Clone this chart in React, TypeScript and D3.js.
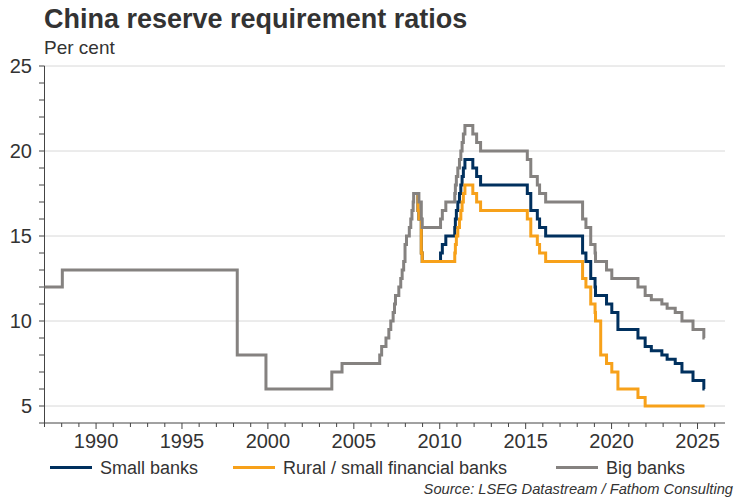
import React from "react";
import * as d3 from "d3";

// Change points: [date, per cent]
const smallBanks: [string, number][] = [
  ["2008-06-25", 17.5], ["2008-09-25", 16.5], ["2008-10-15", 16], ["2008-12-05", 14], ["2008-12-25", 13.5],
  ["2010-01-18", 14], ["2010-02-25", 14.5], ["2010-05-10", 15], ["2010-11-16", 15.5], ["2010-11-29", 16],
  ["2010-12-20", 16.5], ["2011-01-20", 17], ["2011-02-24", 17.5], ["2011-03-25", 18], ["2011-04-21", 18.5],
  ["2011-05-18", 19], ["2011-06-20", 19.5], ["2011-12-05", 19], ["2012-02-24", 18.5], ["2012-05-18", 18],
  ["2015-02-05", 17.5], ["2015-04-20", 16.5], ["2015-09-06", 16], ["2015-10-24", 15.5], ["2016-03-01", 15],
  ["2018-04-25", 14], ["2018-07-05", 13.5], ["2018-10-15", 12.5], ["2019-01-15", 12], ["2019-01-25", 11.5],
  ["2019-09-16", 11], ["2020-01-06", 10.5], ["2020-05-15", 9.5], ["2021-07-15", 9], ["2021-12-15", 8.5],
  ["2022-04-25", 8.25], ["2022-12-05", 8], ["2023-03-27", 7.75], ["2023-09-15", 7.5], ["2024-02-05", 7],
  ["2024-09-27", 6.5], ["2025-05-15", 6], ["2025-06-01", 6],
];

const ruralBanks: [string, number][] = [
  ["2008-06-25", 17.5], ["2008-09-25", 16.5], ["2008-10-15", 16], ["2008-12-05", 14], ["2008-12-25", 13.5],
  ["2010-11-16", 14], ["2010-11-29", 14.5], ["2010-12-20", 15], ["2011-01-20", 15.5], ["2011-02-24", 16],
  ["2011-03-25", 16.5], ["2011-04-21", 17], ["2011-05-18", 17.5], ["2011-06-20", 18], ["2011-12-05", 17.5],
  ["2012-02-24", 17], ["2012-05-18", 16.5], ["2015-02-05", 16], ["2015-04-20", 15], ["2015-09-06", 14.5],
  ["2015-10-24", 14], ["2016-03-01", 13.5], ["2018-04-25", 12.5], ["2018-07-05", 12], ["2018-10-15", 11],
  ["2019-01-15", 10.5], ["2019-01-25", 10], ["2019-05-15", 8], ["2019-09-16", 7.5], ["2020-01-06", 7],
  ["2020-05-15", 6], ["2021-07-15", 5.5], ["2021-12-15", 5], ["2025-06-01", 5],
];

const bigBanks: [string, number][] = [
  ["1987-01-01", 12], ["1988-01-15", 13], ["1998-03-21", 8], ["1999-11-21", 6], ["2003-09-21", 7],
  ["2004-04-25", 7.5], ["2006-07-05", 8], ["2006-08-15", 8.5], ["2006-11-15", 9], ["2007-01-15", 9.5],
  ["2007-02-25", 10], ["2007-04-16", 10.5], ["2007-05-15", 11], ["2007-06-05", 11.5], ["2007-08-15", 12],
  ["2007-09-25", 12.5], ["2007-10-25", 13], ["2007-11-26", 13.5], ["2007-12-25", 14.5], ["2008-01-25", 15],
  ["2008-03-25", 15.5], ["2008-04-25", 16], ["2008-05-20", 16.5], ["2008-06-15", 17], ["2008-06-25", 17.5],
  ["2008-10-15", 17], ["2008-12-05", 16], ["2008-12-25", 15.5], ["2010-01-18", 16], ["2010-02-25", 16.5],
  ["2010-05-10", 17], ["2010-11-16", 17.5], ["2010-11-29", 18], ["2010-12-20", 18.5], ["2011-01-20", 19],
  ["2011-02-24", 19.5], ["2011-03-25", 20], ["2011-04-21", 20.5], ["2011-05-18", 21], ["2011-06-20", 21.5],
  ["2011-12-05", 21], ["2012-02-24", 20.5], ["2012-05-18", 20], ["2015-02-05", 19.5], ["2015-04-20", 18.5],
  ["2015-09-06", 18], ["2015-10-24", 17.5], ["2016-03-01", 17], ["2018-04-25", 16], ["2018-07-05", 15.5],
  ["2018-10-15", 14.5], ["2019-01-15", 14], ["2019-01-25", 13.5], ["2019-09-16", 13], ["2020-01-06", 12.5],
  ["2021-07-15", 12], ["2021-12-15", 11.5], ["2022-04-25", 11.25], ["2022-12-05", 11], ["2023-03-27", 10.75],
  ["2023-09-15", 10.5], ["2024-02-05", 10], ["2024-09-27", 9.5], ["2025-05-15", 9], ["2025-06-01", 9],
];

const seriesNames = ["Small banks", "Rural / small financial banks", "Big banks"];
const seriesColors = ["#00305e", "#f7a11a", "#858280"];
const yTickLabels = [5, 10, 15, 20, 25];
const xTickLabels = [1990, 1995, 2000, 2005, 2010, 2015, 2020, 2025];

const parse = d3.timeParse("%Y-%m-%d");
const FONT = "'Liberation Sans', Arial, sans-serif";

export default function App() {
  const x = d3
    .scaleTime()
    .domain([new Date(1987, 0, 1), new Date(2026, 7, 8)])
    .range([44.5, 725]);
  const y = d3.scaleLinear().domain([4, 25]).range([423, 66]);

  const line = d3
    .line<[string, number]>()
    .x((d) => x(parse(d[0]) as Date))
    .y((d) => y(d[1]))
    .curve(d3.curveStepAfter);

  const allSeries = [smallBanks, ruralBanks, bigBanks];
  const yearTicks = d3.timeYear.range(new Date(1987, 0, 1), new Date(2026, 6, 1));
  const yMinor = d3.range(4, 26, 1);
  const legendX = [50, 233, 556];

  return (
    <svg
      width={750}
      height={500}
      style={{ position: "absolute", left: 0, top: 0, background: "#fff" }}
      fontFamily={FONT}
    >
      <text x={44} y={28} fontSize={27} fontWeight="bold" fill="#333">
        China reserve requirement ratios
      </text>
      <text x={44} y={54} fontSize={19} fill="#333">
        Per cent
      </text>

      {yTickLabels.map((v) => (
        <line
          key={"g" + v}
          x1={44.5}
          x2={725}
          y1={y(v)}
          y2={y(v)}
          stroke="#b0b0b0"
          strokeWidth={1}
          strokeDasharray="1,1"
        />
      ))}

      {/* y axis */}
      <line x1={44.5} x2={44.5} y1={y(25)} y2={y(4)} stroke="#444" strokeWidth={1} />
      {yMinor.map((v) => (
        <line key={"yt" + v} x1={39} x2={44.5} y1={y(v)} y2={y(v)} stroke="#444" strokeWidth={1} />
      ))}
      {yTickLabels.map((v) => (
        <text key={"yl" + v} x={32} y={y(v) + 7} fontSize={20} textAnchor="end" fill="#333">
          {v}
        </text>
      ))}

      {/* x axis */}
      <line x1={44.5} x2={725} y1={423} y2={423} stroke="#444" strokeWidth={1} />
      {yearTicks.map((d) => (
        <line
          key={"xt" + d.getFullYear()}
          x1={x(d)}
          x2={x(d)}
          y1={423}
          y2={d.getFullYear() % 5 === 0 ? 429 : 427}
          stroke="#444"
          strokeWidth={1}
        />
      ))}
      {xTickLabels.map((yr) => (
        <text key={"xl" + yr} x={x(new Date(yr, 0, 1))} y={448} fontSize={20} textAnchor="middle" fill="#333">
          {yr}
        </text>
      ))}

      {/* series */}
      {allSeries.map((s, i) => (
        <path
          key={"s" + i}
          d={line(s) || ""}
          fill="none"
          stroke={seriesColors[i]}
          strokeWidth={3}
          strokeLinejoin="miter"
        />
      ))}

      {/* legend */}
      {seriesNames.map((n, i) => (
        <g key={"lg" + i}>
          <line
            x1={legendX[i]}
            x2={legendX[i] + 42}
            y1={467.5}
            y2={467.5}
            stroke={seriesColors[i]}
            strokeWidth={3}
          />
          <text x={legendX[i] + 50} y={474} fontSize={18} fill="#333">
            {n}
          </text>
        </g>
      ))}

      <text x={733} y={494} fontSize={14.7} fontStyle="italic" textAnchor="end" fill="#333">
        Source: LSEG Datastream / Fathom Consulting
      </text>
    </svg>
  );
}
